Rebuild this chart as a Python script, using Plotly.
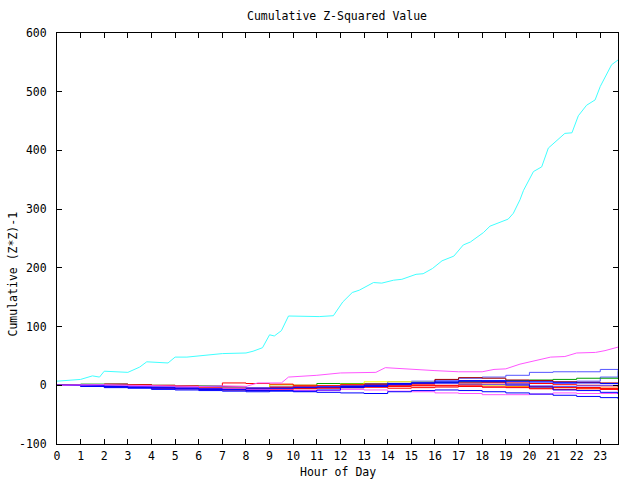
import plotly.graph_objects as go

# ---- data ----
hours = [0, 1, 2, 3, 4, 5, 6, 7, 8, 9, 10, 11, 12, 13, 14, 15, 16, 17, 18, 19, 20, 21, 22, 23, 23.75]

cyan_hours = [0, 0.5, 1, 1.5, 1.8, 2.0, 3.0, 3.5, 3.8, 4.7, 5.0, 5.5, 6.0, 7.0, 8.0, 8.3, 8.7, 9.0, 9.2,
              9.5, 9.8, 11.1, 11.7, 12.1, 12.5, 12.8, 13.4, 13.75, 14.25, 14.6, 15.2, 15.5, 15.9, 16.3,
              16.8, 17.2, 17.5, 18.05, 18.33, 18.9, 19.1, 19.32, 19.6, 19.75, 20.17, 20.52, 20.8, 21.5,
              21.8, 22.07, 22.42, 22.78, 23.0, 23.48, 23.75]
cyan_vals = [7, 9, 10, 16, 14, 24, 22, 31, 40, 38, 48, 48, 50, 54, 55, 58, 64, 86, 84,
             93, 118, 117, 118.5, 142, 158, 162, 175, 174, 179, 180.5, 189, 190, 199, 212,
             220, 239, 244, 260, 271, 280, 283, 293, 316, 332, 364, 372, 404, 429,
             430, 459, 477, 486, 509, 546, 554]

magenta_hours = [0, 1, 2, 3, 4, 5, 6, 7, 8, 8.5, 9.5, 9.8, 11, 12, 13, 13.5, 13.9, 15, 16, 17, 18,
                 18.5, 19, 19.6, 20, 20.9, 21.5, 22, 22.8, 23.2, 23.75]
magenta_vals = [0, 1, 1, 0, -1, -2, -2, -1, -2, 4, 4, 14, 17, 21, 22, 22, 30, 28, 25, 23, 23,
                27, 28, 36, 40, 48, 49, 55, 56, 59, 65]

series = [
    ("#5555ff", [0, 1, 2, 1, -1, -2, -3, -4, -5, -3, -2, -1, 0, 3, 6, 7, 9, 12, 14, 17, 22, 23, 23, 27, 25]),
    ("#5555ff", [0, -1, -1, 0, -1, -2, -3, -4, -5, -6, -5, -4, -3, 0, 2, 3, 4, 5, 6, 6, 4, 3, 7, 14, 24]),
    ("#00a000", [0, 2, 2, 1, 0, -1, -1, -2, -4, 1, 0, 3, 3, 2, 3, 5, 5, 6, 6, 8, 9, 10, 12, 12, 11]),
    ("#a00000", [0, -1, -1, -2, -3, -3, -4, -4, -5, -4, -3, -2, 0, 1, 2, 3, 10, 13, 12, 9, 8, 6, 5, 4, 3]),
    ("#ffff00", [0, -1, -3, -2, -1, -2, -3, -4, -6, 1, 0, -1, 2, 6, 6, 5, 3, 2, 0, -2, -3, -4, -5, -5, -5]),
    ("#ff0000", [0, 1, 2, 1, 0, -1, -2, 4, 3, 2, 0, -1, -2, -1, 0, 2, 3, 4, 5, 4, 3, 1, 0, -1, -3]),
    ("#ff0000", [0, 0, -2, -3, -5, -6, -7, -8, -9, -7, -6, -5, -4, -3, -2, -1, 0, 1, 2, 0, -2, -3, -4, -5, -6]),
    ("#ff0000", [0, -1, -2, -2, -3, -4, -5, -5, -6, -6, -5, -4, -4, -3, -5, -4, -3, -1, -3, -3, -5, -7, -4, -6, -8]),
    ("#ff0000", [0, 1, 0, -1, -1, -2, -3, -2, -4, -3, -2, -1, 1, 2, 1, 0, -1, -2, -3, -4, -6, -4, -6, -7, -9]),
    ("#ff55ff", [0, 0, -1, -2, -3, -4, -5, -6, -7, -8, -9, -9, -7, -8, -10, -11, -13, -14, -16, -16, -15, -13, -14, -14, -13]),
    ("#5555ff", [0, 1, 0, -1, -2, -3, -2, -3, -4, -5, -3, -2, -1, 0, 2, 4, 3, 2, 1, 0, -1, -2, -1, 0, -2]),
    ("#0000ff", [0, -1, -2, -3, -4, -5, -6, -7, -6, -5, -4, -3, -2, 0, 3, 4, 5, 7, 8, 7, 6, 5, 4, 3, 2]),
    ("#0000ff", [0, -2, -4, -5, -7, -8, -9, -10, -11, -9, -10, -8, -4, -2, 1, 4, 7, 8, 6, 2, -3, -8, -9, -12, -15]),
    ("#0000ff", [0, -1, -3, -4, -5, -6, -7, -8, -9, -10, -11, -12, -13, -14, -11, -9, -8, -9, -11, -13, -15, -17, -19, -21, -23]),
]

x_ticks = list(range(24))
y_ticks = [-100, 0, 100, 200, 300, 400, 500, 600]

FONT = "DejaVu Sans Mono"

fig = go.Figure()
for color, vals in series:
    fig.add_trace(go.Scatter(x=hours, y=vals, mode="lines", line=dict(color=color, width=1, shape="hv"),
                             showlegend=False, hoverinfo="skip"))
fig.add_trace(go.Scatter(x=magenta_hours, y=magenta_vals, mode="lines", line=dict(color="#ff55ff", width=1),
                         showlegend=False, hoverinfo="skip"))
fig.add_trace(go.Scatter(x=cyan_hours, y=cyan_vals, mode="lines", line=dict(color="#40ffff", width=1),
                         showlegend=False, hoverinfo="skip"))

L, R, T, B = 57, 22, 33, 36
W, H = 640, 480
pw, ph = W - L - R, H - T - B

fig.update_layout(
    width=W, height=H,
    margin=dict(l=L, r=R, t=T, b=B, pad=0),
    paper_bgcolor="white", plot_bgcolor="white",
    font=dict(family=FONT, size=11, color="black"),
    showlegend=False,
    xaxis=dict(range=[0, 23.75], tickvals=x_ticks, ticktext=[str(v) for v in x_ticks],
               ticks="inside", ticklen=5, tickcolor="black", showline=True, linecolor="black",
               linewidth=1, mirror="ticks", showgrid=False, zeroline=False,
               tickfont=dict(family=FONT, size=11.5), ticklabelstandoff=1),
    yaxis=dict(range=[-100, 600], tickvals=y_ticks, ticktext=[str(v) for v in y_ticks],
               ticks="inside", ticklen=5, tickcolor="black", showline=True, linecolor="black",
               linewidth=1, mirror="ticks", showgrid=False, zeroline=False,
               tickfont=dict(family=FONT, size=11.5), ticklabelstandoff=7),
    annotations=[
        dict(text="Cumulative Z-Squared Value", xref="paper", yref="paper",
             x=(337 - L) / pw, y=(H - B - 16) / ph, xanchor="center", yanchor="middle",
             showarrow=False, font=dict(family=FONT, size=11.5)),
        dict(text="Hour of Day", xref="paper", yref="paper",
             x=(338 - L) / pw, y=(H - B - 471.5) / ph, xanchor="center", yanchor="middle",
             showarrow=False, font=dict(family=FONT, size=11.5)),
        dict(text="Cumulative (Z*Z)-1", xref="paper", yref="paper", textangle=-90,
             x=(12 - L) / pw, y=(H - B - 274.5) / ph, xanchor="center", yanchor="middle",
             showarrow=False, font=dict(family=FONT, size=11.5)),
    ],
)

fig.write_html("out.html")
